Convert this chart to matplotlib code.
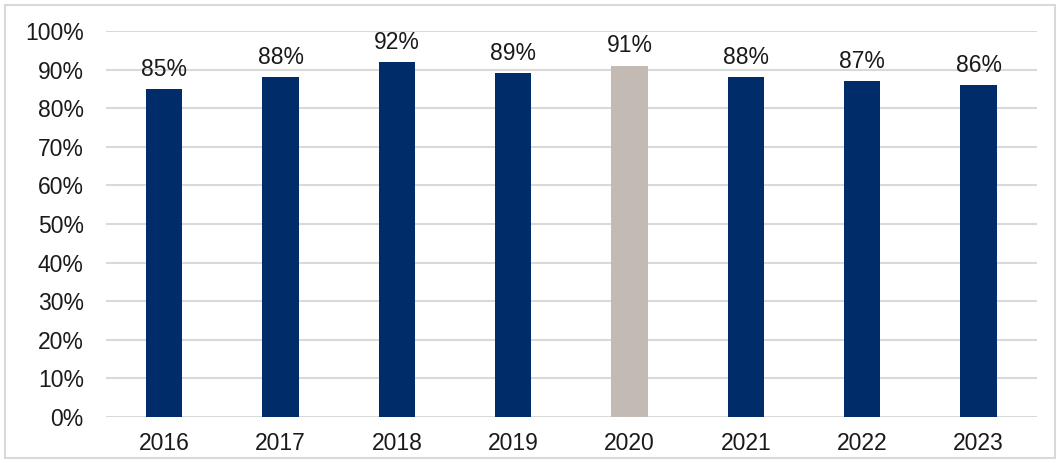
import matplotlib
matplotlib.use("Agg")
import matplotlib.pyplot as plt
from matplotlib.patches import Rectangle

years = ["2016", "2017", "2018", "2019", "2020", "2021", "2022", "2023"]
values = [85, 88, 92, 89, 91, 88, 87, 86]
colors = ["#002D6A", "#002D6A", "#002D6A", "#002D6A", "#C3BBB3", "#002D6A", "#002D6A", "#002D6A"]
yticks = [0, 10, 20, 30, 40, 50, 60, 70, 80, 90, 100]

plt.rcParams['font.family'] = ['Liberation Sans', 'DejaVu Sans']
FS = 16.5

fig = plt.figure(figsize=(10.6, 4.63), dpi=100)
ax = fig.add_axes([0.1, 0.0994, 0.878, 0.8336])

x = list(range(len(years)))
bars = ax.bar(x, values, width=0.31, color=colors, zorder=3)
for xi, v in zip(x, values):
    ax.annotate(f"{v}%", (xi, v), xytext=(0, 6), textcoords="offset points",
                ha="center", va="bottom", fontsize=FS, color="#1a1a1a")

ax.set_ylim(0, 100)
ax.set_xlim(-0.5, len(years) - 0.5)
ax.set_yticks(yticks)
ax.set_yticklabels([f"{t}%" for t in yticks], fontsize=FS, color="#1a1a1a")
ax.set_xticks(x)
ax.set_xticklabels(years, fontsize=FS, color="#1a1a1a")
ax.tick_params(axis="both", length=0)
ax.tick_params(axis="y", pad=16)
ax.tick_params(axis="x", pad=11)
ax.yaxis.grid(True, color="#D9D9D9", linewidth=1.5, zorder=0)
for s in ax.spines.values():
    s.set_visible(False)

fig.patches.append(Rectangle((5/1060, 5/463), 1 - 10/1060, 1 - 10/463,
                             transform=fig.transFigure, fill=False,
                             edgecolor="#D9D9D9", linewidth=1.5))

fig.savefig("out.png", dpi=100)
